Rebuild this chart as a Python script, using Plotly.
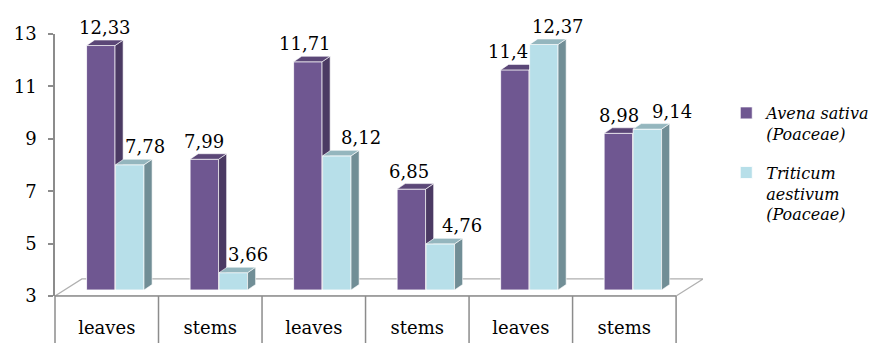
import plotly.graph_objects as go

# ---- data ----
categories = ["leaves", "stems", "leaves", "stems", "leaves", "stems"]
avena = [12.33, 7.99, 11.71, 6.85, 11.4, 8.98]
triticum = [7.78, 3.66, 8.12, 4.76, 12.37, 9.14]
series_names = ["<i>Avena sativa<br>(Poaceae)</i>", "<i>Triticum<br>aestivum<br>(Poaceae)</i>"]
y_ticks = [3, 5, 7, 9, 11, 13]

# ---- style ----
FONT = "DejaVu Serif"
Y0 = 3
BASE_LIFT = 0.23      # bars stand slightly back on the floor
BAR_W = 0.275
OFFSETS = [-0.195, 0.085]
DX, DY = 0.078, 0.21  # bar depth (x units, y units)
FLOOR_DX, FLOOR_DY = 0.26, 0.65
colors_front = ["#6F5791", "#B7DFE9"]
colors_side = ["#4B3A63", "#718E96"]
colors_top = ["#5B4777", "#94B6BE"]
AXIS_COL = "#8C8C8C"
label_xshift = [[0, -4, -7, -6, -11, -3], [11, 11, 20, 18, 10, 21]]

xpos = list(range(len(categories)))
fig = go.Figure()

for s, vals in enumerate([avena, triticum]):
    xa = "x" if s == 0 else "x2"
    ya = "y" if s == 0 else "y2"
    fig.add_trace(go.Bar(
        x=xpos, y=[v - Y0 for v in vals], base=[Y0 + BASE_LIFT] * len(vals),
        width=BAR_W, offset=OFFSETS[s], name=series_names[s],
        marker=dict(color=colors_front[s], line=dict(color="white", width=0.8)),
        xaxis=xa, yaxis=ya, legendgroup=f"g{s}", hoverinfo="skip"))
    sx, sy, tx, ty = [], [], [], []
    for i, v in zip(xpos, vals):
        xl = i + OFFSETS[s]
        xr = xl + BAR_W
        b = Y0 + BASE_LIFT
        t = v + BASE_LIFT
        sx += [xr, xr + DX, xr + DX, xr, xr, None]
        sy += [b, b + DY, t + DY, t, b, None]
        tx += [xl, xl + DX, xr + DX, xr, xl, None]
        ty += [t, t + DY, t + DY, t, t, None]
    fig.add_trace(go.Scatter(x=sx, y=sy, mode="lines", fill="toself",
                             fillcolor=colors_side[s], line=dict(color="white", width=0.6),
                             xaxis=xa, yaxis=ya, showlegend=False, hoverinfo="skip"))
    fig.add_trace(go.Scatter(x=tx, y=ty, mode="lines", fill="toself",
                             fillcolor=colors_top[s], line=dict(color="white", width=0.6),
                             xaxis=xa, yaxis=ya, showlegend=False, hoverinfo="skip"))
    for i, v in zip(xpos, vals):
        fig.add_annotation(
            x=i + OFFSETS[s] + BAR_W / 2 + DX / 2, y=v + BASE_LIFT + DY,
            xref="x", yref="y", text=f"{v}".replace(".", ","), showarrow=False,
            yanchor="bottom", yshift=0, xshift=label_xshift[s][i],
            font=dict(family=FONT, size=18, color="black"))

xr_ = [-0.5, len(categories) - 0.5 + FLOOR_DX]
n = len(categories)
shapes = [
    dict(type="path", xref="x", yref="y", layer="below",
         path=f"M{-0.5},{Y0} L{n - 0.5},{Y0} L{n - 0.5 + FLOOR_DX},{Y0 + FLOOR_DY} "
              f"L{-0.5 + FLOOR_DX},{Y0 + FLOOR_DY} Z",
         fillcolor="white", line=dict(color="#B0B0B0", width=1.2)),
    dict(type="line", xref="x", yref="paper", x0=-0.5, x1=n - 0.5, y0=0, y1=0,
         line=dict(color=AXIS_COL, width=1.5)),
    dict(type="line", xref="paper", yref="paper", x0=0, x1=0, y0=0, y1=-0.2,
         line=dict(color=AXIS_COL, width=1.5)),
]
for k in range(1, n + 1):
    shapes.append(dict(type="line", xref="x", yref="paper", x0=k - 0.5, x1=k - 0.5,
                       y0=0, y1=-0.2, line=dict(color=AXIS_COL, width=1.5)))

fig.update_layout(
    width=875, height=343,
    margin=dict(l=55, r=875 - 703, t=34, b=47),
    paper_bgcolor="white", plot_bgcolor="rgba(0,0,0,0)",
    barmode="overlay",
    showlegend=True,
    shapes=shapes,
    font=dict(family=FONT, color="black"),
    xaxis=dict(range=xr_, tickvals=xpos, ticktext=categories, showgrid=False,
               zeroline=False, showline=False, ticks="", ticklabelstandoff=19,
               automargin=False,
               tickfont=dict(family=FONT, size=18, color="black"), fixedrange=True),
    xaxis2=dict(range=xr_, overlaying="x", visible=False, fixedrange=True),
    yaxis=dict(range=[Y0, 13], tickvals=y_ticks, showgrid=False, zeroline=False,
               showline=True, linecolor=AXIS_COL, linewidth=1.5, ticks="outside",
               ticklen=5, tickcolor=AXIS_COL, tickwidth=1.5, ticklabelstandoff=8,
               automargin=False,
               tickfont=dict(family=FONT, size=18, color="black"), fixedrange=True),
    yaxis2=dict(range=[Y0, 13], overlaying="y", visible=False, fixedrange=True),
    legend=dict(xref="container", yref="container", x=0.83, y=1 - 96 / 343,
                xanchor="left", yanchor="top", valign="top",
                font=dict(family=FONT, size=16, color="black"),
                traceorder="grouped", tracegroupgap=15, bgcolor="rgba(0,0,0,0)"),
)

fig.write_html("out.html")
